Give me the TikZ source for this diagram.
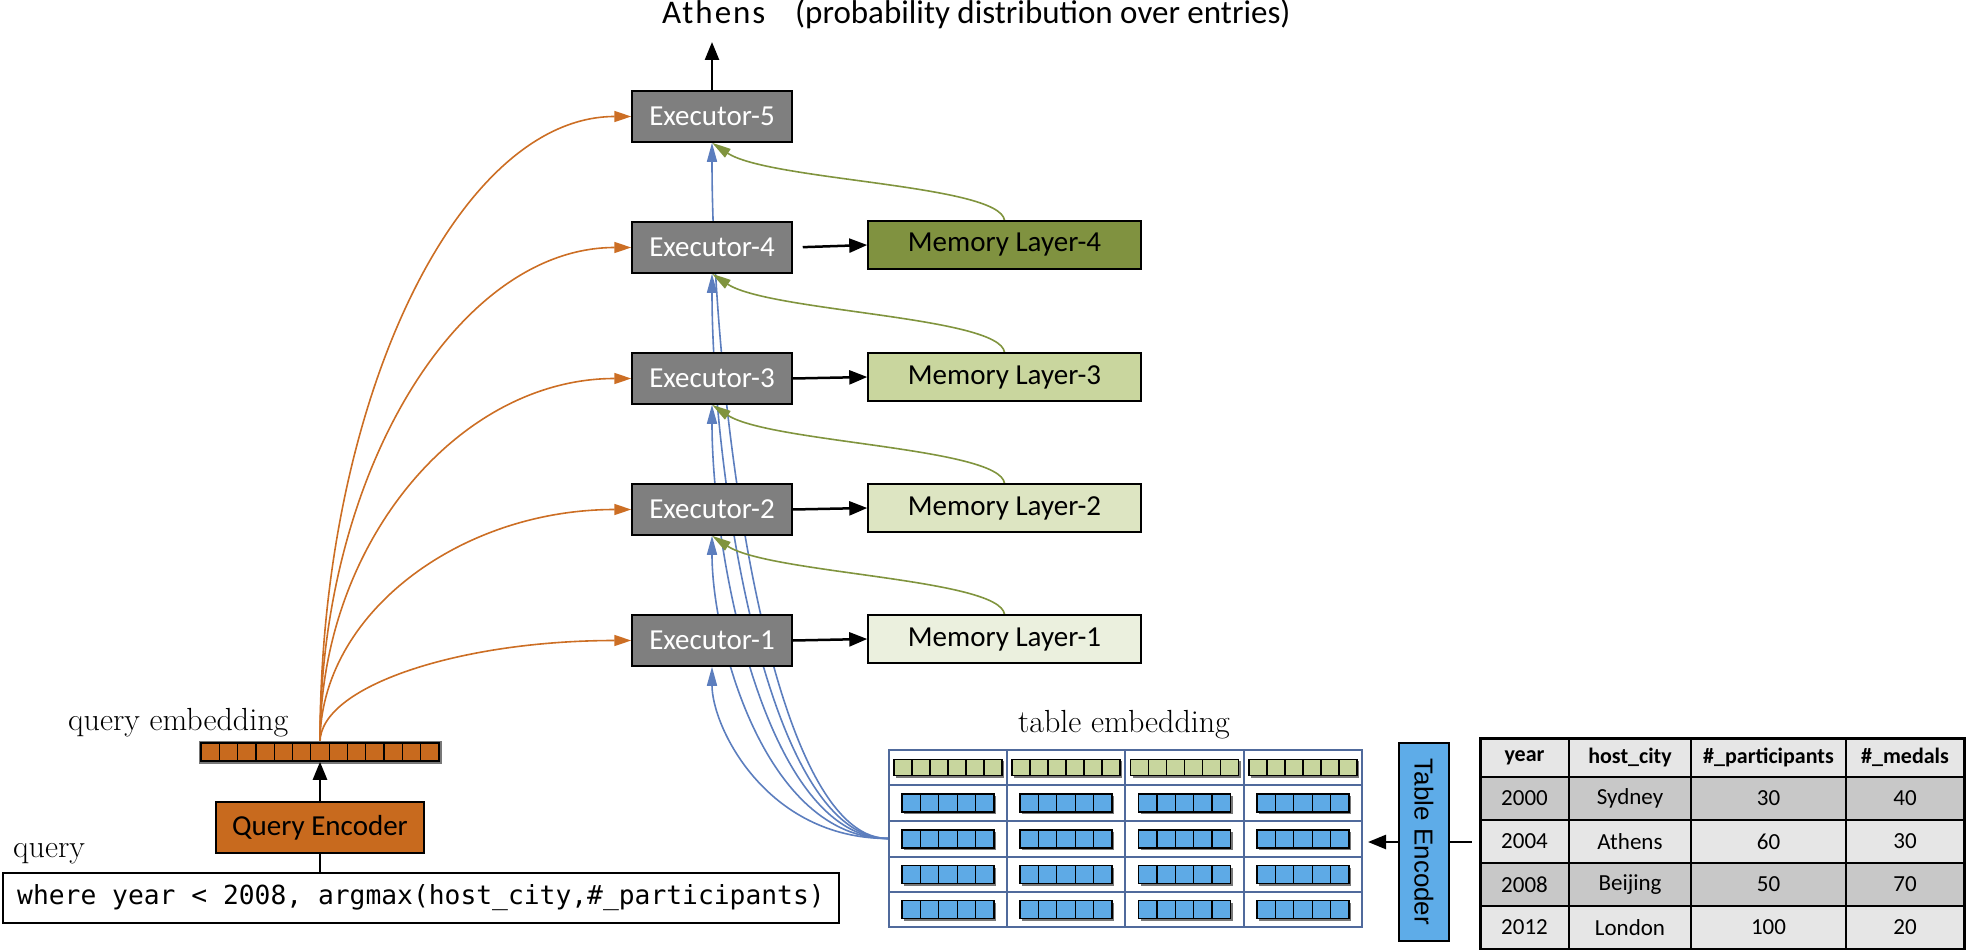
\documentclass[tikz,border=0pt]{standalone}
\usepackage{fontspec}
\usepackage{graphicx}
\usetikzlibrary{arrows.meta,calc}
\newfontfamily\calfont{Carlito}
\newfontfamily\arialf{Liberation Sans}
\newfontfamily\qmono{DejaVu Sans Mono}
\definecolor{execgray}{RGB}{127,127,127}
\definecolor{memfour}{RGB}{128,146,64}
\definecolor{memthree}{RGB}{201,214,158}
\definecolor{memtwo}{RGB}{221,229,194}
\definecolor{memone}{RGB}{235,240,222}
\definecolor{qorange}{RGB}{200,106,30}
\definecolor{orgline}{RGB}{204,110,36}
\definecolor{blueline}{RGB}{92,126,190}
\definecolor{grnline}{RGB}{128,148,62}
\definecolor{tencblue}{RGB}{94,172,232}
\definecolor{vecblue}{RGB}{94,170,230}
\definecolor{vecgreen}{RGB}{200,214,158}
\definecolor{gridblue}{RGB}{80,106,156}
\definecolor{hdrgray}{RGB}{230,230,230}
\definecolor{drkgray}{RGB}{200,200,200}
\definecolor{lgtgray}{RGB}{230,230,230}
\definecolor{shadowgray}{RGB}{120,120,120}
\pgfdeclarelayer{bg}
\pgfsetlayers{bg,main}
\begin{document}
\begin{tikzpicture}[x=1pt,y=-1pt,
  execbox/.style={draw=black, line width=1.5pt, fill=execgray, text=white,
    minimum width=160pt, minimum height=51pt, inner sep=0pt,
    font=\calfont\fontsize{29}{34}\selectfont},
  membox/.style={draw=black, line width=1.5pt, minimum width=273pt,
    minimum height=48pt, inner sep=0pt, font=\calfont\fontsize{29}{34}\selectfont},
  lbl/.style={inner sep=0pt, font=\fontsize{32}{38}\selectfont},
  tcell/.style={inner sep=0pt, font=\calfont\fontsize{23}{27}\selectfont},
  thead/.style={inner sep=0pt, font=\calfont\bfseries\fontsize{22}{26}\selectfont},
  blkarrow/.style={draw=black, line width=2.5pt, -{Triangle[length=18pt,width=14pt]}},
  orgarrow/.style={draw=orgline, line width=1.6pt, -{Triangle[length=17pt,width=11pt]}},
  bluearrow/.style={draw=blueline, line width=1.6pt, -{Triangle[length=19pt,width=10pt]}},
  grnarrow/.style={draw=grnline, line width=1.6pt, -{Triangle[length=19pt,width=10pt]}},
  vcell/.style={draw=black, line width=1.3pt}
]
\useasboundingbox (0,0) rectangle (1966,950);

% ---- title ----
\node[anchor=base west, inner sep=0pt, font=\calfont\fontsize{33}{40}\selectfont] (ttl) at (662,24) {\addfontfeature{LetterSpace=6}Athens};
\node[anchor=base west, inner sep=0pt, font=\calfont\fontsize{33}{40}\selectfont] (ttlb) at (795,24) {(probability distribution over entries)};
\coordinate (outtip) at (712,42);

% ---- executors ----
\node[execbox] (e5) at (712,116.5) {Executor-5};
\node[execbox] (e4) at (712,247.5) {Executor-4};
\node[execbox] (e3) at (712,378.5) {Executor-3};
\node[execbox] (e2) at (712,509.5) {Executor-2};
\node[execbox] (e1) at (712,640.5) {Executor-1};

% ---- memory layers ----
\node[membox, fill=memfour] (m4) at (1004.5,245) {Memory Layer-4};
\node[membox, fill=memthree] (m3) at (1004.5,377) {Memory Layer-3};
\node[membox, fill=memtwo] (m2) at (1004.5,508) {Memory Layer-2};
\node[membox, fill=memone] (m1) at (1004.5,639) {Memory Layer-1};

% ---- query side ----
\node[lbl, anchor=base west] (qelbl) at (68,730) {query embedding};
\fill[shadowgray] (199,741) rectangle (442,764);
\node[draw=black, fill=qorange, line width=1.5pt, minimum width=238pt, minimum height=18pt, inner sep=0pt] (qemb) at (320,752) {};
\foreach \i in {1,...,12} { \draw[line width=1.2pt] (201+\i*18.3077,743) -- (201+\i*18.3077,761); }
\node[draw=black, fill=qorange, line width=1.5pt, minimum width=208pt, minimum height=51pt, inner sep=0pt,
  font=\calfont\fontsize{29}{34}\selectfont] (qenc) at (320,827.5) {Query Encoder};
\node[lbl, anchor=base west] (qlbl) at (13,857) {query};
\node[draw=black, line width=1.5pt, fill=white, minimum width=836pt, minimum height=50pt, inner sep=0pt,
  font=\qmono\fontsize{26.3}{30}\selectfont] (qbox) at (421,898) {where year < 2008, argmax(host\_city,\#\_participants)};

% ---- table embedding ----
\node[lbl, anchor=base] (telbl) at (1124,732) {table embedding};
\node[draw=gridblue, line width=2pt, fill=white, minimum width=473pt, minimum height=177pt, inner sep=0pt] (temb) at (1125.5,838.5) {};
\foreach \gx in {1007,1125,1244} { \draw[gridblue, line width=2pt] (\gx,750) -- (\gx,927); }
\foreach \gy in {785,821,857,892} { \draw[gridblue, line width=2pt] (889,\gy) -- (1362,\gy); }
\foreach \cx in {948,1066,1184.5,1303} {
  \fill[shadowgray] (\cx-52,761) rectangle (\cx+56,778);
  \foreach \i in {0,...,5} { \draw[vcell, fill=vecgreen] (\cx-54+\i*18,759.5) rectangle (\cx-36+\i*18,775.5); }
  \foreach \cy in {803,839,874.5,909.5} {
    \fill[shadowgray] (\cx-44,\cy-7) rectangle (\cx+48,\cy+11);
    \foreach \i in {0,...,4} { \draw[vcell, fill=vecblue] (\cx-46+\i*18.4,\cy-9) rectangle (\cx-27.6+\i*18.4,\cy+9); }
  }
}

% ---- table encoder ----
\node[draw=black, line width=1.5pt, fill=tencblue, minimum width=50pt, minimum height=198pt, inner sep=0pt,
  font=\arialf\fontsize{26}{30}\selectfont] (tenc) at (1424,842) {\rotatebox{-90}{Table Encoder}};

% ---- data table ----
\fill[hdrgray] (1480,738) rectangle (1964,777);
\fill[drkgray] (1480,777) rectangle (1964,820);
\fill[lgtgray] (1480,820) rectangle (1964,863);
\fill[drkgray] (1480,863) rectangle (1964,906);
\fill[lgtgray] (1480,906) rectangle (1964,949);
\foreach \gx in {1569,1691,1846} { \draw[line width=2.5pt] (\gx,738) -- (\gx,949); }
\foreach \gy in {777,820,863,906} { \draw[line width=2.5pt] (1480,\gy) -- (1964,\gy); }
\node[draw=black, line width=3pt, minimum width=484pt, minimum height=211pt, inner sep=0pt] (tbl) at (1722,843.5) {};
\node[thead] (h1) at (1524.5,757.5) {year};
\node[thead] (h2) at (1630,757.5) {host\_city};
\node[thead] (h3) at (1768.5,757.5) {\#\_participants};
\node[thead] (h4) at (1905,757.5) {\#\_medals};
\foreach \r/\y/\a/\b/\c/\d in {1/798.5/2000/Sydney/30/40, 2/841.5/2004/Athens/60/30, 3/884.5/2008/Beijing/50/70, 4/927.5/2012/London/100/20} {
  \node[tcell] (c\r a) at (1524.5,\y) {\a};
  \node[tcell] (c\r b) at (1630,\y) {\b};
  \node[tcell] (c\r c) at (1768.5,\y) {\c};
  \node[tcell] (c\r d) at (1905,\y) {\d};
}

% ---- connectors ----
\begin{pgfonlayer}{bg}
\foreach \k/\c in {1/60,2/106,3/152,4/198,5/244} {
  \draw[bluearrow] (temb.west) .. controls ($(temb.west)+(-122,0)$) and ($(e\k.south)+(0,\c)$) .. (e\k.south);
}
\foreach \k/\n in {1/2,2/3,3/4,4/5} {
  \draw[grnarrow] (m\k.north) .. controls ($(m\k.north)+(-5,-36)$) and ($(e\n.south)+(57,38)$) .. (e\n.south);
}
\foreach \k in {1,...,5} {
  \draw[orgarrow] (qemb.north) .. controls ($(qemb.north)!0.55!(qemb.north |- e\k.west)$) and ($(e\k.west)+(-172,0)$) .. (e\k.west);
}
\end{pgfonlayer}

\draw[blkarrow] (e5.north) -- (outtip);
\draw[blkarrow, shorten <=10pt] (e4.east) -- (m4.west);
\draw[blkarrow] (e3.east) -- (m3.west);
\draw[blkarrow] (e2.east) -- (m2.west);
\draw[blkarrow] (e1.east) -- (m1.west);
\draw[blkarrow] (qenc.north) -- (qemb.south);
\draw[line width=2.5pt] (qenc.south) -- (qenc.south |- qbox.north);
\draw[line width=2.5pt, shorten >=7pt] (tenc.east) -- (tenc.east -| tbl.west);
\draw[blkarrow, shorten >=5pt] (tenc.west) -- (tenc.west -| temb.east);
\end{tikzpicture}
\end{document}
